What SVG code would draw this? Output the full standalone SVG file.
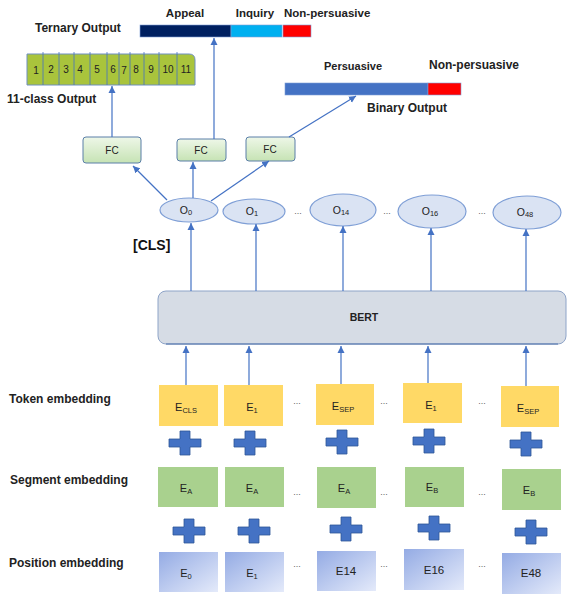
<svg xmlns="http://www.w3.org/2000/svg" width="567" height="594" viewBox="0 0 567 594">
<style>
text{font-family:"Liberation Sans",Arial,sans-serif;fill:#222}
.lbl{font-size:12px;font-weight:bold}
.hd{font-size:11.5px;font-weight:bold}
.bx{font-size:11px;text-anchor:middle}
.ol{font-size:10.5px;text-anchor:middle}
.sub{font-size:7.5px}
.con line{stroke:#4472c4;stroke-width:1.2;fill:none}
.arr{marker-end:url(#ah)}
.tok{fill:#ffd966}
.seg{fill:#a9d18e}
.pos{fill:url(#pg)}
.ell{fill:#dae3f3;stroke:#7f9fd6;stroke-width:1.2}
.fc{fill:url(#fg);stroke:#5b7fa8;stroke-width:1}
.plus{fill:#4472c4;stroke:#2f5597;stroke-width:0.8}
.dots{font-size:9px;fill:#666;text-anchor:middle}
.num{font-size:10px;text-anchor:middle}
</style>
<defs>
<marker id="ah" markerUnits="userSpaceOnUse" markerWidth="8" markerHeight="8" refX="7" refY="4" orient="auto">
<path d="M0,0.5 L7,4 L0,7.5 Z" fill="#4472c4"/>
</marker>
<linearGradient id="pg" x1="0" y1="0" x2="1" y2="1">
<stop offset="0" stop-color="#94abe4"/>
<stop offset="1" stop-color="#e4eafa"/>
</linearGradient>
<linearGradient id="fg" x1="0" y1="0" x2="0" y2="1">
<stop offset="0" stop-color="#eef7e8"/>
<stop offset="1" stop-color="#c6e3b4"/>
</linearGradient>
<path id="pl" d="M-5,-12 H5 V-4 H16 V4 H5 V12 H-5 V4 H-16 V-4 H-5 Z"/>
</defs>
<rect width="567" height="594" fill="#ffffff"/>

<!-- Ternary output -->
<g id="ternary">
<text class="lbl" x="35" y="32">Ternary Output</text>
<text class="hd" x="185" y="17" text-anchor="middle">Appeal</text>
<text class="hd" x="255" y="17" text-anchor="middle">Inquiry</text>
<text class="hd" x="284" y="17">Non-persuasive</text>
<rect x="140" y="25" width="91" height="12" fill="#002060" stroke="#7f9fd6" stroke-width="0.6"/>
<rect x="231" y="25" width="51" height="12" fill="#00b0f0" stroke="#7f9fd6" stroke-width="0.6"/>
<rect x="283" y="25" width="28" height="12" fill="#ff0000" stroke="#7f9fd6" stroke-width="0.6"/>
</g>

<!-- 11-class output -->
<g id="eleven">
<path d="M27,54 H189 Q195,54 195,60 V85 H27 Z" fill="#a9c43c" stroke="#6f8fc0" stroke-width="1"/>
<g stroke="#4472c4" stroke-width="0.8">
<line x1="43" y1="52" x2="43" y2="85"/><line x1="59" y1="52" x2="59" y2="85"/>
<line x1="74" y1="52" x2="74" y2="85"/><line x1="90" y1="52" x2="90" y2="85"/>
<line x1="107" y1="52" x2="107" y2="85"/><line x1="119" y1="52" x2="119" y2="85"/>
<line x1="130" y1="52" x2="130" y2="85"/><line x1="144" y1="52" x2="144" y2="85"/>
<line x1="159" y1="52" x2="159" y2="85"/><line x1="177" y1="52" x2="177" y2="85"/>
</g>
<text class="num" x="36" y="74">1</text><text class="num" x="51" y="73">2</text>
<text class="num" x="66" y="73">3</text><text class="num" x="80" y="73">4</text>
<text class="num" x="97" y="73">5</text><text class="num" x="113" y="73">6</text>
<text class="num" x="124" y="74">7</text><text class="num" x="136" y="73">8</text>
<text class="num" x="151" y="73">9</text><text class="num" x="168" y="73">10</text>
<text class="num" x="186" y="73">11</text>
<text class="lbl" x="7" y="103">11-class Output</text>
</g>

<!-- Binary output -->
<g id="binary">
<text class="hd" x="353" y="70" text-anchor="middle" style="font-size:11px">Persuasive</text>
<text class="hd" x="429" y="69" style="font-size:12px">Non-persuasive</text>
<rect x="285" y="83" width="143" height="12" fill="#4472c4" stroke="#7f9fd6" stroke-width="0.6"/>
<rect x="428" y="83" width="33" height="12" fill="#ff0000" stroke="#7f9fd6" stroke-width="0.6"/>
<text class="lbl" x="367" y="112">Binary Output</text>
</g>

<!-- FC nodes -->
<g id="fc1"><rect class="fc" x="83" y="137" width="58" height="26" rx="3"/><text class="bx" x="112" y="154" style="font-size:10px">FC</text></g>
<g id="fc2"><rect class="fc" x="177" y="139" width="49" height="22" rx="3"/><text class="bx" x="201" y="154" style="font-size:10px">FC</text></g>
<g id="fc3"><rect class="fc" x="246" y="137" width="49" height="24" rx="3"/><text class="bx" x="270" y="153" style="font-size:10px">FC</text></g>

<!-- Output ellipses -->
<g id="o0"><ellipse class="ell" cx="189" cy="210" rx="29" ry="12"/><text class="ol" x="186" y="214">O<tspan class="sub" dy="1">0</tspan></text></g>
<g id="o1"><ellipse class="ell" cx="254" cy="211.5" rx="31" ry="12.5"/><text class="ol" x="252" y="215">O<tspan class="sub" dy="1">1</tspan></text></g>
<g id="o14"><ellipse class="ell" cx="343" cy="210" rx="33" ry="16"/><text class="ol" x="341" y="214">O<tspan class="sub" dy="1">14</tspan></text></g>
<g id="o16"><ellipse class="ell" cx="432" cy="211.5" rx="34" ry="16.5"/><text class="ol" x="430" y="215">O<tspan class="sub" dy="1">16</tspan></text></g>
<g id="o48"><ellipse class="ell" cx="527" cy="212.5" rx="34" ry="16.5"/><text class="ol" x="525" y="216">O<tspan class="sub" dy="1">48</tspan></text></g>
<text class="dots" x="298" y="214">...</text>
<text class="dots" x="387" y="214">...</text>
<text class="dots" x="482" y="214">...</text>
<text x="133" y="250" style="font-size:14px;font-weight:bold;fill:#111">[CLS]</text>

<!-- BERT -->
<g id="bert">
<rect x="158" y="291" width="408" height="53" rx="8" fill="#d6dce5" stroke="#8ea4c8" stroke-width="1"/>
<line x1="166" y1="344" x2="558" y2="344" stroke="#4a6ea8" stroke-width="1"/>
<text x="364" y="321" text-anchor="middle" style="font-size:10.5px;font-weight:bold">BERT</text>
</g>

<!-- Row labels -->
<text class="lbl" x="9" y="403">Token embedding</text>
<text class="lbl" x="10" y="484">Segment embedding</text>
<text class="lbl" x="9" y="567">Position embedding</text>

<!-- Token embeddings -->
<g id="tok1"><rect class="tok" x="159" y="385" width="59" height="41"/><text class="bx" x="186" y="411">E<tspan class="sub" dy="2">CLS</tspan></text></g>
<g id="tok2"><rect class="tok" x="224" y="385" width="59" height="41"/><text class="bx" x="252" y="411">E<tspan class="sub" dy="2">1</tspan></text></g>
<g id="tok3"><rect class="tok" x="316" y="384" width="58" height="41"/><text class="bx" x="343" y="410">E<tspan class="sub" dy="2">SEP</tspan></text></g>
<g id="tok4"><rect class="tok" x="403" y="383" width="59" height="40"/><text class="bx" x="431" y="409">E<tspan class="sub" dy="2">1</tspan></text></g>
<g id="tok5"><rect class="tok" x="501" y="386" width="58" height="41"/><text class="bx" x="528" y="412">E<tspan class="sub" dy="2">SEP</tspan></text></g>
<text class="dots" x="297" y="404">...</text>
<text class="dots" x="384" y="404">...</text>
<text class="dots" x="482" y="404">...</text>

<!-- Plus row 1 -->
<use href="#pl" class="plus" x="185" y="443"/>
<use href="#pl" class="plus" x="250" y="443"/>
<use href="#pl" class="plus" x="342" y="442"/>
<use href="#pl" class="plus" x="429" y="441"/>
<use href="#pl" class="plus" x="526" y="444"/>

<!-- Segment embeddings -->
<g id="seg1"><rect class="seg" x="158" y="467" width="60" height="40"/><text class="bx" x="186" y="492">E<tspan class="sub" dy="2">A</tspan></text></g>
<g id="seg2"><rect class="seg" x="225" y="467" width="59" height="40"/><text class="bx" x="252" y="492">E<tspan class="sub" dy="2">A</tspan></text></g>
<g id="seg3"><rect class="seg" x="317" y="467" width="59" height="41"/><text class="bx" x="344" y="492">E<tspan class="sub" dy="2">A</tspan></text></g>
<g id="seg4"><rect class="seg" x="405" y="467" width="59" height="40"/><text class="bx" x="432" y="491">E<tspan class="sub" dy="2">B</tspan></text></g>
<g id="seg5"><rect class="seg" x="502" y="469" width="59" height="41"/><text class="bx" x="529" y="494">E<tspan class="sub" dy="2">B</tspan></text></g>
<text class="dots" x="297" y="495">...</text>
<text class="dots" x="384" y="495">...</text>
<text class="dots" x="482" y="495">...</text>

<!-- Plus row 2 -->
<use href="#pl" class="plus" x="189" y="531"/>
<use href="#pl" class="plus" x="254" y="531"/>
<use href="#pl" class="plus" x="346" y="529"/>
<use href="#pl" class="plus" x="434" y="528"/>
<use href="#pl" class="plus" x="531" y="532"/>

<!-- Position embeddings -->
<g id="pos1"><rect class="pos" x="159" y="552" width="59" height="40"/><text class="bx" x="186" y="577">E<tspan class="sub" dy="2">0</tspan></text></g>
<g id="pos2"><rect class="pos" x="225" y="552" width="59" height="40"/><text class="bx" x="252" y="577">E<tspan class="sub" dy="2">1</tspan></text></g>
<g id="pos3"><rect class="pos" x="317" y="551" width="59" height="40"/><text class="bx" x="346" y="575" style="font-size:11.5px">E14</text></g>
<g id="pos4"><rect class="pos" x="404" y="549" width="60" height="41"/><text class="bx" x="434" y="574" style="font-size:11.5px">E16</text></g>
<g id="pos5"><rect class="pos" x="502" y="553" width="59" height="41"/><text class="bx" x="531" y="577" style="font-size:11.5px">E48</text></g>
<text class="dots" x="297" y="567">...</text>
<text class="dots" x="384" y="567">...</text>
<text class="dots" x="482" y="567">...</text>

<!-- Connectors -->
<g id="connectors" class="con">
<line class="arr" x1="112" y1="137" x2="112" y2="86"/>
<line class="arr" x1="214" y1="139" x2="214" y2="38"/>
<line class="arr" x1="289" y1="137" x2="356" y2="96"/>
<line class="arr" x1="167" y1="200" x2="133" y2="166"/>
<line class="arr" x1="193" y1="198" x2="193" y2="162"/>
<line class="arr" x1="211" y1="201" x2="269" y2="161"/>
<line class="arr" x1="191" y1="291" x2="191" y2="223"/>
<line class="arr" x1="256" y1="291" x2="256" y2="224"/>
<line class="arr" x1="343" y1="291" x2="343" y2="226"/>
<line class="arr" x1="431" y1="291" x2="431" y2="228"/>
<line class="arr" x1="526" y1="291" x2="526" y2="229"/>
<line class="arr" x1="186" y1="385" x2="186" y2="346"/>
<line class="arr" x1="249" y1="385" x2="249" y2="346"/>
<line class="arr" x1="341" y1="384" x2="341" y2="346"/>
<line class="arr" x1="428" y1="383" x2="428" y2="346"/>
<line class="arr" x1="526" y1="386" x2="526" y2="346"/>
</g>
</svg>
